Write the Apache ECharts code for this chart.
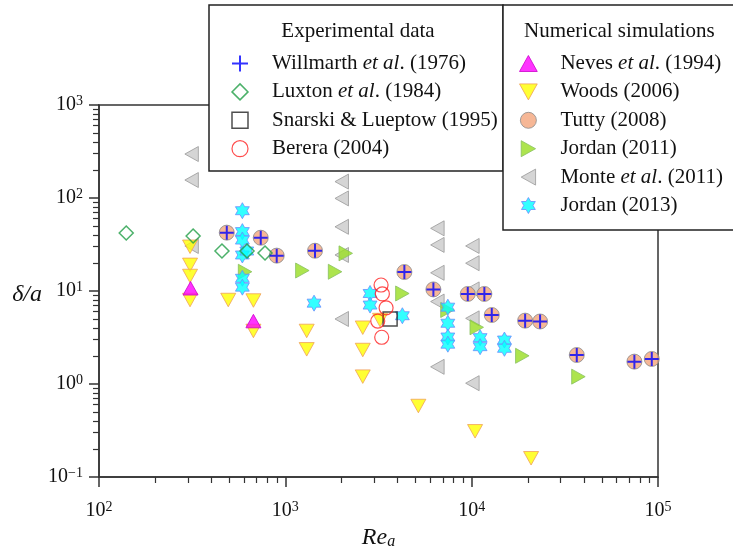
<!DOCTYPE html>
<html>
<head>
    <meta charset="utf-8">
    <title>delta/a against Re_a</title>
    <script src="https://cdn.jsdelivr.net/npm/echarts@6/dist/echarts.min.js"></script>
    <style>
        body {margin:0;}
    </style>
</head>
<body>
    <div id="main" style="width: 733px;height:546px;"></div>
    <script type="text/javascript">
        // values: x = Re_a, y = delta/a
        var willmarthRe    = [485, 738, 899, 1443, 4354, 6232, 9530, 11700, 12820, 19360, 23290, 36650, 74700, 92600];
        var willmarthDelta = [42.4, 37.4, 24.0, 27.1, 16.0, 10.4, 9.3, 9.3, 5.52, 4.8, 4.7, 2.05, 1.74, 1.86];

        var luxtonRe    = [140, 320, 457, 623, 778];
        var luxtonDelta = [42, 39, 26.9, 26.9, 25.6];

        var snarskiRe    = [3650];
        var snarskiDelta = [5.0];

        var bereraRe    = [3264, 3317, 3473, 3133, 3290];
        var bereraDelta = [11.6, 9.3, 6.6, 4.75, 3.18];

        var nevesRe    = [310, 674];
        var nevesDelta = [10.7, 4.75];

        var woodsRe    = [308, 308, 308, 308, 494, 674, 674, 1302, 1302, 2603, 2603, 2603, 3223, 5176, 10430, 20840];
        var woodsDelta = [29.9, 19.1, 14.5, 8.0, 8.0, 7.9, 3.72, 3.72, 2.36, 4.03, 2.32, 1.2, 4.87, 0.58, 0.31, 0.159];

        var tuttyRe    = [485, 738, 899, 1443, 4354, 6232, 9530, 11700, 12820, 19360, 23290, 36650, 74700, 92600];
        var tuttyDelta = [42.4, 37.4, 24.0, 27.1, 16.0, 10.4, 9.3, 9.3, 5.52, 4.8, 4.7, 2.05, 1.74, 1.86];

        var jordan11Re    = [608, 1234, 1849, 2110, 4247, 7413, 10650, 18700, 37400];
        var jordan11Delta = [16.1, 16.6, 16.1, 25.4, 9.4, 6.25, 4.07, 2.01, 1.2];

        var monteRe    = [314, 314, 314, 2008, 2008, 2008, 2008, 2008, 6546, 6546, 6546, 6546, 6546, 10090, 10090, 10090, 10090, 10090];
        var monteDelta = [297, 156, 30.5, 150, 99, 49, 24.4, 5.0, 47.2, 31.3, 15.7, 7.7, 1.53, 30.5, 19.9, 10.4, 5.08, 1.02];

        var jordan13Re    = [588, 588, 588, 588, 621, 588, 588, 1426, 2849, 2849, 4247, 7450, 7450, 7450, 7450, 11100, 11100, 14990, 14990];
        var jordan13Delta = [73, 43.5, 35.3, 24.4, 26.9, 13.7, 11.0, 7.4, 9.4, 7.06, 5.42, 6.7, 4.5, 3.2, 2.68, 3.15, 2.52, 2.97, 2.42];

        // axis ticks
        var xExponents = [2, 3, 4, 5];
        var yExponents = [-1, 0, 1, 2, 3];
        var xMinorTicks = [200, 300, 400, 500, 600, 700, 800, 900,
                           2000, 3000, 4000, 5000, 6000, 7000, 8000, 9000,
                           20000, 30000, 40000, 50000, 60000, 70000, 80000, 90000];
        var yMinorTicks = [0.2, 0.3, 0.4, 0.5, 0.6, 0.7, 0.8, 0.9,
                           2, 3, 4, 5, 6, 7, 8, 9,
                           20, 30, 40, 50, 60, 70, 80, 90,
                           200, 300, 400, 500, 600, 700, 800, 900];

        var experimentalNames = ['Willmarth et al. (1976)', 'Luxton et al. (1984)', 'Snarski & Lueptow (1995)', 'Berera (2004)'];
        var numericalNames = ['Neves et al. (1994)', 'Woods (2006)', 'Tutty (2008)', 'Jordan (2011)', 'Monte et al. (2011)', 'Jordan (2013)'];

        var FONT = "'Liberation Serif', 'DejaVu Serif', serif";
        var AXIS = '#333';

        var xMajor = xExponents.map(function (e) { return Math.pow(10, e); });
        var yMajor = yExponents.map(function (e) { return Math.pow(10, e); });

        function pairs(xs, ys) {
            return xs.map(function (x, i) { return [x, ys[i]]; });
        }
        function powLabel(v) {
            var e = Math.round(Math.log(v) / Math.LN10);
            return '{b|10}{s|' + (e < 0 ? '\u2212' + (-e) : e) + '}';
        }
        var powRich = {
            b: {fontFamily: FONT, fontSize: 20, color: '#111', lineHeight: 22},
            s: {fontFamily: FONT, fontSize: 14, color: '#111', verticalAlign: 'top', lineHeight: 13}
        };

        // marker outlines (paths keep their aspect in the legend too)
        var triUp    = 'path://M5,0L10,9L0,9Z';
        var triDown  = 'path://M0,0L10,0L5,9Z';
        var triLeft  = 'path://M9,0L0,5L9,10Z';
        var triRight = 'path://M0,0L9,5L0,10Z';
        var diamond  = 'path://M5,0L10,5L5,10L0,5Z';
        var square   = 'path://M0,0L10,0L10,10L0,10Z';
        var plus     = 'path://M0,5L10,5M5,0L5,10';
        var star     = 'path://M0,-10L2.887,-5L8.66,-5L5.774,0L8.66,5L2.887,5L0,10L-2.887,5L-8.66,5L-5.774,0L-8.66,-5L-2.887,-5Z';

        function scatter(name, xs, ys, symbol, size, style) {
            return {
                name: name, type: 'scatter', data: pairs(xs, ys),
                symbol: symbol, symbolSize: size, symbolKeepAspect: true,
                itemStyle: style, emphasis: {disabled: true}
            };
        }

        var series = [
            scatter('Monte et al. (2011)', monteRe, monteDelta, triLeft, 15, {color: '#cbcbcb', borderColor: '#9a9a9a', borderWidth: 1}),
            scatter('Woods (2006)', woodsRe, woodsDelta, triDown, 15, {color: '#ffff00', borderColor: '#f0a05a', borderWidth: 1}),
            scatter('Neves et al. (1994)', nevesRe, nevesDelta, triUp, 15, {color: '#ff00ff', borderColor: '#cc00cc', borderWidth: 1}),
            scatter('Jordan (2011)', jordan11Re, jordan11Delta, triRight, 15, {color: '#99dd22', borderColor: '#88c060', borderWidth: 1}),
            scatter('Jordan (2013)', jordan13Re, jordan13Delta, star, 16, {color: '#00ffff', borderColor: '#6a8cff', borderWidth: 1}),
            scatter('Tutty (2008)', tuttyRe, tuttyDelta, 'circle', 15, {color: '#f4a57c', borderColor: '#8a8a8a', borderWidth: 1}),
            scatter('Luxton et al. (1984)', luxtonRe, luxtonDelta, diamond, 14, {color: 'rgba(0,0,0,0)', borderColor: '#1f9d45', borderWidth: 1.5}),
            scatter('Snarski & Lueptow (1995)', snarskiRe, snarskiDelta, square, 14, {color: 'rgba(0,0,0,0)', borderColor: '#222', borderWidth: 1.5}),
            scatter('Berera (2004)', bereraRe, bereraDelta, 'circle', 14, {color: 'rgba(0,0,0,0)', borderColor: '#ff2020', borderWidth: 1.2}),
            scatter('Willmarth et al. (1976)', willmarthRe, willmarthDelta, plus, 14, {color: 'rgba(0,0,0,0)', borderColor: '#0000ff', borderWidth: 2})
        ];

        function legendName(name) {
            return name.replace('et al.', '{i|et al}.');
        }
        function makeLegend(names, left) {
            return {
                data: names, orient: 'vertical', left: left, top: 53, padding: 0,
                itemWidth: 54, itemHeight: 16, itemGap: 7.4, z: 20,
                selectedMode: false,
                itemStyle: {borderWidth: 'inherit'},
                formatter: legendName,
                textStyle: {fontFamily: FONT, fontSize: 21, color: '#111', lineHeight: 20,
                            rich: {i: {fontFamily: FONT, fontSize: 21, fontStyle: 'italic', color: '#111', lineHeight: 20}}}
            };
        }

        var myChart = echarts.init(document.getElementById('main'));
        var option = {
            animation: false,
            backgroundColor: '#fff',
            grid: {left: 99, right: 75, top: 105, bottom: 69, show: true, borderColor: AXIS, borderWidth: 1.5,
                   containLabel: false, outerBoundsMode: 'none'},
            xAxis: [{
                type: 'log', logBase: 10, min: 100, max: 100000, position: 'bottom',
                name: '{i|Re}{s|a}', nameLocation: 'middle', nameGap: 41,
                nameTextStyle: {rich: {
                    i: {fontFamily: FONT, fontSize: 24, fontStyle: 'italic', color: '#111'},
                    s: {fontFamily: FONT, fontSize: 16, fontStyle: 'italic', color: '#111', verticalAlign: 'bottom', padding: [8, 0, 0, 0]}
                }},
                axisLine: {onZero: false, lineStyle: {color: AXIS, width: 1.5}},
                axisTick: {customValues: xMajor, length: 10, lineStyle: {color: AXIS, width: 1.5}},
                axisLabel: {customValues: xMajor, formatter: powLabel, rich: powRich, margin: 23},
                splitLine: {show: false}
            }, {
                type: 'log', logBase: 10, min: 100, max: 100000, position: 'bottom',
                axisLine: {show: false},
                axisTick: {customValues: xMinorTicks, length: 6, lineStyle: {color: AXIS, width: 1.2}},
                axisLabel: {show: false},
                splitLine: {show: false}
            }],
            yAxis: [{
                type: 'log', logBase: 10, min: 0.1, max: 1000, position: 'left',
                name: '{i|\u03b4/a}', nameLocation: 'middle', nameRotate: 0, nameGap: 57,
                nameTextStyle: {padding: [8, 0, 0, 0], rich: {i: {fontFamily: FONT, fontSize: 24, fontStyle: 'italic', color: '#111'}}},
                axisLine: {onZero: false, lineStyle: {color: AXIS, width: 1.5}},
                axisTick: {customValues: yMajor, length: 10, lineStyle: {color: AXIS, width: 1.5}},
                axisLabel: {customValues: yMajor, formatter: powLabel, rich: powRich, margin: 16},
                splitLine: {show: false}
            }, {
                type: 'log', logBase: 10, min: 0.1, max: 1000, position: 'left',
                axisLine: {show: false},
                axisTick: {customValues: yMinorTicks, length: 6, lineStyle: {color: AXIS, width: 1.2}},
                axisLabel: {show: false},
                splitLine: {show: false}
            }],
            legend: [makeLegend(experimentalNames, 231), makeLegend(numericalNames, 519)],
            graphic: [
                {type: 'rect', z: 10, shape: {x: 209, y: 5, width: 294, height: 166},
                 style: {fill: '#fff', stroke: '#222', lineWidth: 1.5}},
                {type: 'rect', z: 10, shape: {x: 503, y: 5, width: 250, height: 225},
                 style: {fill: '#fff', stroke: '#222', lineWidth: 1.5}},
                {type: 'text', z: 20, x: 358, y: 31,
                 style: {text: 'Experimental data', font: '21px ' + FONT, fill: '#111', textAlign: 'center', textVerticalAlign: 'middle'}},
                {type: 'text', z: 20, x: 524, y: 31,
                 style: {text: 'Numerical simulations', font: '21px ' + FONT, fill: '#111', textAlign: 'left', textVerticalAlign: 'middle'}}
            ],
            series: series
        };
        myChart.setOption(option);
    </script>
</body>
</html>
